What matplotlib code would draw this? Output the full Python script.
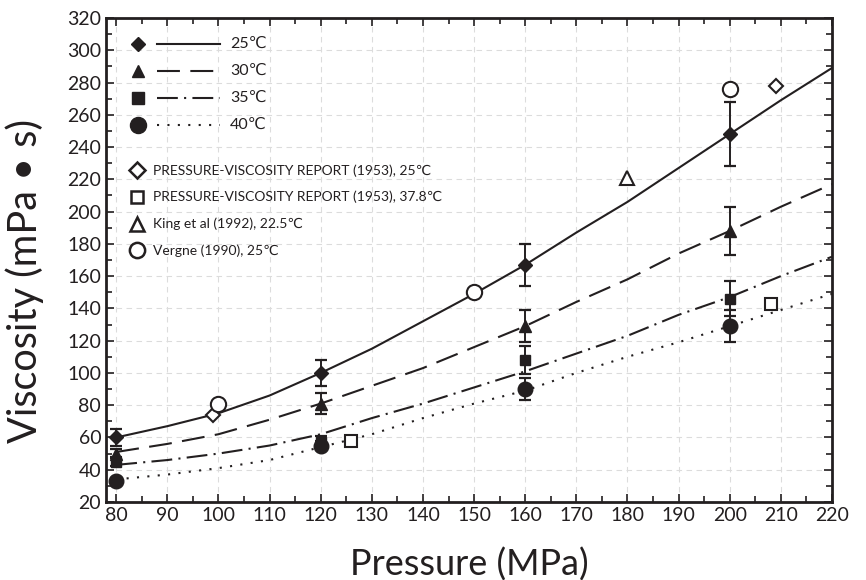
import matplotlib.pyplot as plt
from matplotlib.ticker import MultipleLocator

# measured data (mean +- error) at each test pressure
pressure = [80, 120, 160, 200]
visc_25 = [60, 100, 167, 248]
err_25 = [5, 8, 13, 20]
visc_30 = [50, 81, 129, 188]
err_30 = [3, 6.5, 10, 15]
visc_35 = [45, 57, 108, 146]
err_35 = [3, 4, 8.5, 11]
visc_40 = [33, 55, 90, 129]
err_40 = [2, 3, 7, 10]

# fitted curves
curve_p = [80, 90, 100, 110, 120, 130, 140, 150, 160, 170, 180, 190, 200, 210, 220]
curve_25 = [60, 67, 75, 86, 100, 115, 132, 149, 167, 187, 206, 227, 248, 269, 289]
curve_30 = [51, 56, 62, 71, 81, 92, 103, 116, 129, 144, 158, 174, 188, 203, 217]
curve_35 = [43, 46, 50, 55, 62, 72, 81, 91, 101, 112, 123, 136, 147, 160, 172]
curve_40 = [34, 37, 41, 46, 54, 62, 72, 81, 89, 100, 110, 119, 129, 139, 149]

# literature values
pvr25_p = [99, 209]
pvr25_v = [74, 278]
pvr38_p = [126, 208]
pvr38_v = [58, 143]
king_p = [180]
king_v = [221]
vergne_p = [100, 150, 200]
vergne_v = [81, 150, 276]

temp_labels = ['25℃', '30℃', '35℃', '40℃']
lit_labels = ['PRESSURE-VISCOSITY REPORT (1953), 25℃',
              'PRESSURE-VISCOSITY REPORT (1953), 37.8℃',
              'King et al (1992), 22.5℃',
              'Vergne (1990), 25℃']

ink = '#231f20'
plt.rcParams['font.family'] = ['Lato', 'DejaVu Sans']

fig = plt.figure(figsize=(8.66, 5.8), dpi=100)
ax = fig.add_axes([0.1224, 0.1345, 0.8383, 0.8345])

styles = [
    ('D', 6.8, (None, None), curve_25, visc_25, err_25),
    ('^', 8.5, (11, 5), curve_30, visc_30, err_30),
    ('s', 7.5, (10, 3, 1, 3), curve_35, visc_35, err_35),
    ('o', 10.5, (1, 4), curve_40, visc_40, err_40),
]

for mk, ms, dash, curve, v, e in styles:
    ln, = ax.plot(curve_p, curve, color=ink, lw=1.5, zorder=3)
    if dash[0] is not None:
        ln.set_dashes(dash)
    ax.errorbar(pressure, v, yerr=e, fmt=mk, ms=ms, color=ink, mfc=ink,
                mec=ink, ecolor=ink, elinewidth=1.4, capsize=4.5, capthick=1.6,
                zorder=4)

ax.plot(pvr25_p, pvr25_v, 'D', ms=7.5, mfc='white', mec=ink, mew=1.5, ls='none', zorder=5)
ax.plot(pvr38_p, pvr38_v, 's', ms=8.5, mfc='white', mec=ink, mew=1.5, ls='none', zorder=5)
ax.plot(king_p, king_v, '^', ms=10.5, mfc='white', mec=ink, mew=1.5, ls='none', zorder=5)
ax.plot(vergne_p, vergne_v, 'o', ms=11, mfc='white', mec=ink, mew=1.5, ls='none', zorder=5)

# legend drawn by hand (marker, line sample, text)
row_y = [0.946, 0.890, 0.835, 0.779]
for (mk, ms, dash, *_), lab, yy in zip(styles, temp_labels, row_y):
    ax.plot([0.044], [yy], mk, ms=ms * 1.1, color=ink, transform=ax.transAxes, clip_on=False)
    ln, = ax.plot([0.070, 0.157], [yy, yy], color=ink, lw=1.5, transform=ax.transAxes)
    if dash[0] is not None:
        ln.set_dashes(dash)
    ax.text(0.171, yy, lab, transform=ax.transAxes, va='center', ha='left',
            fontsize=11.5, color=ink)

lit_marks = [('D', 8), ('s', 8.5), ('^', 10.5), ('o', 11)]
lit_y = [0.685, 0.631, 0.574, 0.520]
for (mk, ms), lab, yy in zip(lit_marks, lit_labels, lit_y):
    ax.plot([0.043], [yy], mk, ms=ms, mfc='white', mec=ink, mew=1.8, transform=ax.transAxes)
    ax.text(0.0647, yy, lab, transform=ax.transAxes, va='center', ha='left',
            fontsize=10, color=ink)

ax.set_xlim(78, 220)
ax.set_ylim(20, 320)
ax.xaxis.set_major_locator(MultipleLocator(10))
ax.xaxis.set_minor_locator(MultipleLocator(5))
ax.yaxis.set_major_locator(MultipleLocator(20))
ax.yaxis.set_minor_locator(MultipleLocator(10))
ax.grid(True, which='major', color='#dcdcdc', lw=0.8, ls=(0, (5, 4)), zorder=0)
ax.set_axisbelow(True)
ax.tick_params(which='both', direction='in', top=True, right=True, color=ink,
               labelcolor=ink, labelsize=14, width=1.2)
ax.tick_params(which='major', length=6)
ax.tick_params(which='minor', length=4)
for s in ax.spines.values():
    s.set_linewidth(2)
    s.set_color(ink)

ax.set_xlabel('Pressure (MPa)', fontsize=26, color=ink, labelpad=17)
ax.set_ylabel('Viscosity (mPa • s)', fontsize=28.5, color=ink)
ax.yaxis.set_label_coords(-0.085, 0.457)

fig.savefig('out.png', dpi=100)
